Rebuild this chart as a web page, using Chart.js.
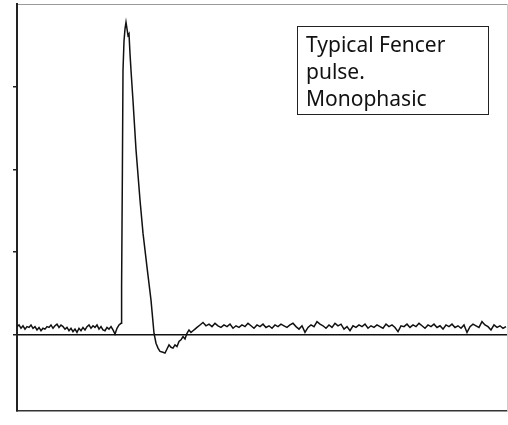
<!DOCTYPE html>
<html>
<head>
<meta charset="utf-8">
<script src="https://cdn.jsdelivr.net/npm/chart.js@4"></script>
<style>
  body { margin: 0; background: #fff; }
  #wrap { position: relative; width: 508px; height: 425px; }
  #note {
    position: absolute; left: 297px; top: 26px; width: 182px; height: 83px;
    border: 1.5px solid #222; padding: 4px 0 0 8px; box-sizing: content-box;
    font-family: "Noto Sans", sans-serif; font-size: 21px; line-height: 27px; color: #111;
  }
</style>
</head>
<body>
<div id="wrap">
  <canvas id="pulseChart" width="508" height="425"></canvas>
  <div id="note">Typical Fencer<br>pulse.<br>Monophasic</div>
</div>
<script>
// sample positions (arbitrary time units) and measured level
const sampleTimes = [
    0, 2, 4, 6, 8, 10, 12, 14, 16, 18, 20, 22, 24, 26, 28, 30, 32, 34, 36, 38,
    40, 42, 44, 46, 48, 50, 52, 54, 56, 58, 60, 62, 64, 66, 68, 70, 72, 74, 76, 78,
    80, 82, 84, 86, 88, 90, 92, 94, 96, 98, 100, 102,
    104, 104.6, 105.4, 106, 107, 108, 109, 110, 111, 112, 113, 114, 116, 119, 123, 126, 130, 134,
    137, 139, 141, 143, 146, 148, 150, 152, 154, 156, 158, 160, 162, 164, 166, 168, 170, 172, 174, 176, 178,
    180, 183, 186, 189, 192, 195, 198, 201, 204, 207, 210, 213, 216, 219, 222, 225, 228, 231, 234, 237,
    240, 243, 246, 249, 252, 255, 258, 261, 264, 267, 270, 273, 276, 279, 282, 285, 288, 291, 294, 297,
    300, 303, 306, 309, 312, 315, 318, 321, 324, 327, 330, 333, 336, 339, 342, 345, 348, 351, 354, 357,
    360, 363, 366, 369, 372, 375, 378, 381, 384, 387, 390, 393, 396, 399, 402, 405, 408, 411, 414, 417,
    420, 423, 426, 429, 432, 435, 438, 441, 444, 447, 450, 453, 456, 459, 462, 465, 468, 471, 474, 477,
    480, 483, 486, 489
];
const pulseLevel = [
    0.10, 0.12, 0.08, 0.11, 0.07, 0.10, 0.09, 0.12, 0.08, 0.10, 0.06, 0.09, 0.05, 0.08, 0.07, 0.10, 0.09, 0.12, 0.08, 0.11,
    0.13, 0.09, 0.12, 0.10, 0.07, 0.09, 0.05, 0.08, 0.04, 0.07, 0.03, 0.08, 0.05, 0.09, 0.06, 0.10, 0.12, 0.08, 0.11, 0.09,
    0.12, 0.07, 0.10, 0.06, 0.05, 0.09, 0.07, 0.10, 0.06, 0.01, 0.08, 0.12,
    0.14, 0.58, 2.00, 3.20, 3.55, 3.70, 3.78, 3.70, 3.62, 3.64, 3.40, 3.20, 2.83, 2.24, 1.63, 1.23, 0.82, 0.42,
    0.02, -0.10, -0.16, -0.20, -0.21, -0.22, -0.17, -0.12, -0.15, -0.16, -0.12, -0.14, -0.08, -0.06, -0.02, -0.05, 0.02, 0.06, 0.03, 0.05, 0.07,
    0.09, 0.12, 0.15, 0.11, 0.13, 0.10, 0.14, 0.11, 0.09, 0.12, 0.10, 0.13, 0.08, 0.11, 0.09, 0.12, 0.10, 0.14, 0.11, 0.08,
    0.12, 0.10, 0.13, 0.09, 0.11, 0.08, 0.12, 0.10, 0.13, 0.11, 0.09, 0.12, 0.14, 0.10, 0.07, 0.11, 0.03, 0.09, 0.12, 0.10,
    0.16, 0.13, 0.11, 0.08, 0.12, 0.09, 0.14, 0.11, 0.13, 0.07, 0.10, 0.05, 0.11, 0.09, 0.12, 0.10, 0.13, 0.08, 0.11, 0.09,
    0.12, 0.10, 0.08, 0.13, 0.10, 0.12, 0.09, 0.04, 0.11, 0.10, 0.13, 0.09, 0.12, 0.10, 0.14, 0.11, 0.08, 0.12, 0.10, 0.13,
    0.09, 0.11, 0.07, 0.12, 0.10, 0.13, 0.09, 0.11, 0.08, 0.12, 0.03, 0.10, 0.13, 0.11, 0.09, 0.16, 0.12, 0.10, 0.06, 0.12,
    0.09, 0.11, 0.08, 0.10
];
const yTickValues = [0, 1, 2, 3];

const ctx = document.getElementById('pulseChart').getContext('2d');

new Chart(ctx, {
    type: 'line',
    data: {
        datasets: [{
            data: sampleTimes.map((t, i) => ({ x: t, y: pulseLevel[i] })),
            borderColor: '#111',
            borderWidth: 1.5,
            pointRadius: 0,
            tension: 0,
            fill: false,
        }],
    },
    options: {
        responsive: false,
        animation: false,
        layout: { padding: { left: 13, top: 4, right: 1, bottom: 14 } },
        plugins: { legend: { display: false }, tooltip: { enabled: false } },
        scales: {
            x: {
                type: 'linear', min: 0, max: 490,
                ticks: { display: false },
                grid: { display: false, drawTicks: false },
                border: { color: '#333', width: 1.5 },
            },
            xTop: {
                type: 'linear', position: 'top', min: 0, max: 490, display: true,
                ticks: { display: false },
                grid: { display: false, drawTicks: false },
                border: { color: '#999', width: 1, dash: [2, 2] },
            },
            y: {
                min: -0.92, max: 4,
                afterBuildTicks: (scale) => {
                    scale.ticks = yTickValues.map(v => ({ value: v }));
                },
                ticks: { display: false },
                grid: {
                    color: (c) => c.tick && c.tick.value === 0 ? '#111' : 'rgba(0,0,0,0)',
                    lineWidth: 1.5,
                    tickColor: '#222',
                    tickLength: 4,
                },
                border: { color: '#222', width: 2 },
            },
            yRight: {
                position: 'right', min: -0.92, max: 4, display: true,
                ticks: { display: false },
                grid: { display: false, drawTicks: false },
                border: { color: '#ccc', width: 1 },
            },
        },
    },
});
</script>
</body>
</html>
